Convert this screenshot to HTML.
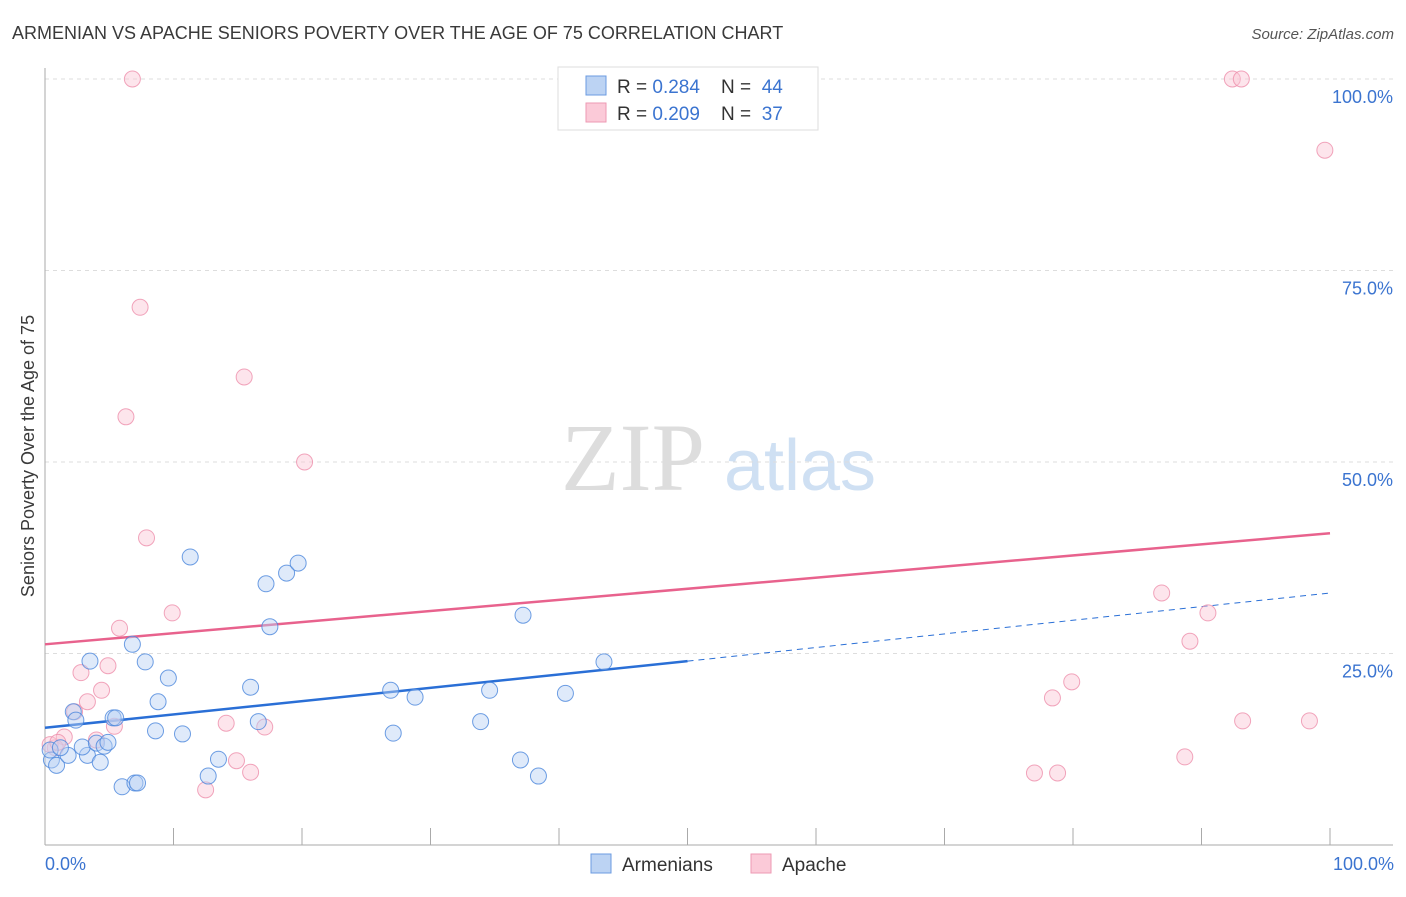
<!DOCTYPE html>
<html><head><meta charset="utf-8"><style>
body{margin:0;background:#fff;font-family:"Liberation Sans",sans-serif}
</style></head><body>
<svg id="c" width="1406" height="892" xmlns="http://www.w3.org/2000/svg" font-family="Liberation Sans, sans-serif">
<text x="12" y="39" font-size="18" fill="#3a3a3a">ARMENIAN VS APACHE SENIORS POVERTY OVER THE AGE OF 75 CORRELATION CHART</text>
<text x="1394" y="39" font-size="15" fill="#555" font-style="italic" text-anchor="end">Source: ZipAtlas.com</text>
<text x="633" y="490" font-size="96" fill="#ddd" font-family="Liberation Serif, serif" text-anchor="middle">ZIP</text>
<text x="800" y="490" font-size="72" fill="#cfe0f3" text-anchor="middle">atlas</text>
<text transform="translate(34,456) rotate(-90)" font-size="18" fill="#3a3a3a" text-anchor="middle">Seniors Poverty Over the Age of 75</text>
<g id="grid"></g><g id="lines"></g><g id="pts"></g>
<g>
<rect x="558" y="67" width="260" height="63" fill="#fff" stroke="#ddd"/>
<rect x="586" y="76" width="20" height="19" fill="#bcd3f3" stroke="#6b9be0"/>
<rect x="586" y="103" width="20" height="19" fill="#fbcad8" stroke="#ee9ab3"/>
<text x="617" y="93" font-size="19" fill="#333" xml:space="preserve" style="white-space:pre">R = <tspan fill="#3b74d0">0.284</tspan>    N =  <tspan fill="#3b74d0">44</tspan></text>
<text x="617" y="120" font-size="19" fill="#333" xml:space="preserve" style="white-space:pre">R = <tspan fill="#3b74d0">0.209</tspan>    N =  <tspan fill="#3b74d0">37</tspan></text>
</g>
<g>
<rect x="591" y="854" width="20" height="19" fill="#bcd3f3" stroke="#6b9be0"/>
<text x="622" y="871" font-size="19" fill="#333">Armenians</text>
<rect x="751" y="854" width="20" height="19" fill="#fbcad8" stroke="#ee9ab3"/>
<text x="782" y="871" font-size="19" fill="#333">Apache</text>
</g>
<text x="45" y="870" font-size="18" fill="#3b74d0">0.0%</text>
<text x="1394" y="870" font-size="18" fill="#3b74d0" text-anchor="end">100.0%</text>
</svg>
<script>
const blueX=[0.5,0.9,0.4,1.8,1.2,2.2,2.4,3.3,2.9,3.5,4.0,4.3,4.6,4.9,5.3,5.5,6.0,6.8,7.0,7.2,7.8,8.6,8.8,9.6,10.7,11.3,12.7,13.5,16.0,16.6,17.2,17.5,18.8,19.7,26.9,27.1,28.8,33.9,34.6,37.0,37.2,38.4,40.5,43.5];
const blueY=[11.1,10.4,12.4,11.7,12.7,17.4,16.3,11.7,12.8,24.0,13.3,10.8,12.9,13.4,16.6,16.6,7.6,26.2,8.1,8.1,23.9,14.9,18.7,21.8,14.5,37.6,9.0,11.2,20.6,16.1,34.1,28.5,35.5,36.8,20.2,14.6,19.3,16.1,20.2,11.1,30.0,9.0,19.8,23.9];
const pinkX=[6.8,7.4,6.3,15.5,20.2,7.9,9.9,5.8,2.8,4.9,4.4,3.3,2.3,5.4,4.0,1.5,0.8,0.4,14.1,14.9,16.0,17.1,12.5,92.4,93.1,99.6,86.9,90.5,89.1,78.4,79.9,77.0,78.8,88.7,93.2,98.4,1.0];
const pinkY=[100,70.2,55.9,61.1,50.0,40.1,30.3,28.3,22.5,23.4,20.2,18.7,17.4,15.5,13.7,14.1,12.7,13.1,15.9,11.0,9.5,15.4,7.2,100,100,90.7,32.9,30.3,26.6,19.2,21.3,9.4,9.4,11.5,16.2,16.2,13.4];
const yTicks=[25,50,75,100];
const yTickLabels=["25.0%","50.0%","75.0%","100.0%"];
const xTicks=[10,20,30,40,50,60,70,80,90,100];
const blueTrend=[15.3,24.0,32.9];
const pinkTrend=[26.2,40.7];
const sx=v=>45+v*12.85, sy=v=>845-v*7.66;
const NS="http://www.w3.org/2000/svg";
function mk(p,t,a){const e=document.createElementNS(NS,t);for(const k in a)e.setAttribute(k,a[k]);p.appendChild(e);return e;}
const grid=document.getElementById('grid'),lines=document.getElementById('lines'),pts=document.getElementById('pts'),svg=document.getElementById('c');
yTicks.forEach((t,i)=>{
 const g=mk(grid,'line',{x1:45,x2:1393,y1:sy(t),y2:sy(t),stroke:'#ddd','stroke-dasharray':'4 4'});
 
 
 const tx=mk(svg,'text',{x:1393,y:sy(t)+24,'font-size':18,fill:'#3b74d0','text-anchor':'end'});
 tx.textContent=yTickLabels[i];
 
 
});
const ya=mk(grid,'line',{x1:45,x2:45,y1:68,y2:845,stroke:'#aaa'});


const xa=mk(grid,'line',{x1:45,x2:1393,y1:845,y2:845,stroke:'#aaa'});


xTicks.forEach(t=>{
 const l=mk(grid,'line',{x1:sx(t),x2:sx(t),y1:828,y2:845,stroke:'#aaa'});
 
 
});
function drawPts(X,Y,fill,stroke,name){X.forEach((x,i)=>{
 const c=mk(pts,'circle',{cx:sx(x),cy:sy(Y[i]),r:8,fill:fill,'fill-opacity':0.45,stroke:stroke,'stroke-opacity':0.8,'stroke-width':1});
 
 
});}
drawPts(pinkX,pinkY,'#fbc6d5','#ee8fab','apache-point');
drawPts(blueX,blueY,'#b9d1f3','#4a86dc','armenian-point');
const b1=mk(lines,'line',{x1:sx(0),y1:sy(blueTrend[0]),x2:sx(50),y2:sy(blueTrend[1]),stroke:'#2a6fd6','stroke-width':2.5});


const b2=mk(lines,'line',{x1:sx(50),y1:sy(blueTrend[1]),x2:sx(100),y2:sy(blueTrend[2]),stroke:'#2a6fd6','stroke-width':1,'stroke-dasharray':'6 5'});


const p1=mk(lines,'line',{x1:sx(0),y1:sy(pinkTrend[0]),x2:sx(100),y2:sy(pinkTrend[1]),stroke:'#e8628d','stroke-width':2.5});


</script>
</body></html>
